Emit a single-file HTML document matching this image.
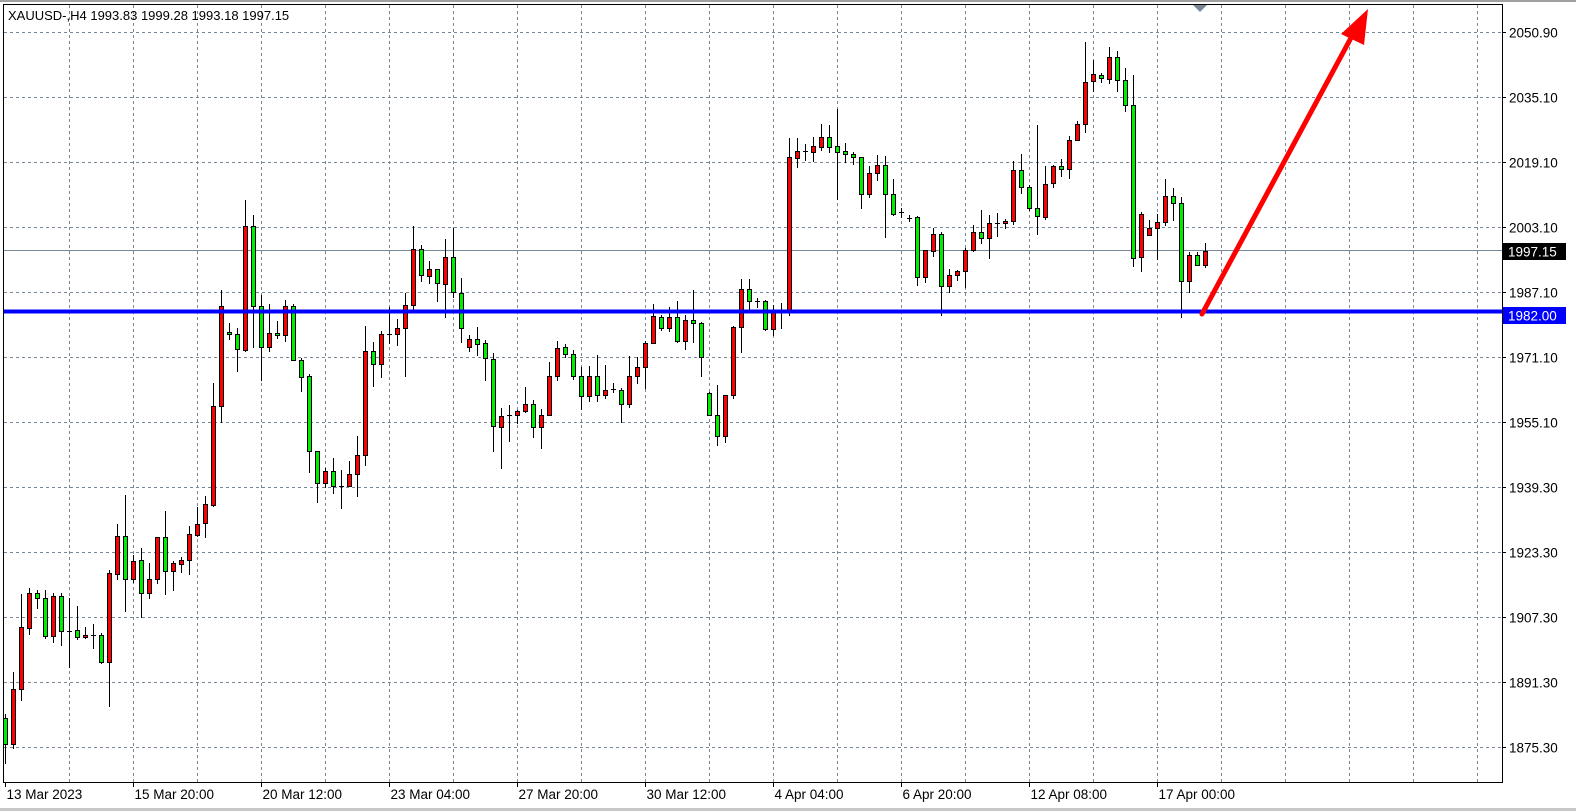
<!DOCTYPE html>
<html><head><meta charset="utf-8">
<style>
html,body{margin:0;padding:0;background:#fff;}
body{width:1576px;height:811px;overflow:hidden;position:relative;font-family:"Liberation Sans",sans-serif;}
svg{position:absolute;left:0;top:0;}
text{font-family:"Liberation Sans",sans-serif;font-size:13.5px;fill:#000;}
</style></head>
<body>
<svg id="s" width="1576" height="811" viewBox="0 0 1576 811" xmlns="http://www.w3.org/2000/svg">
<rect x="0" y="0" width="1576" height="811" fill="#fff"/>
<line x1="0" y1="1" x2="1576" y2="1" stroke="#a0a0a0" stroke-width="2"/>
<line x1="0" y1="809.5" x2="1576" y2="809.5" stroke="#c8c8c8" stroke-width="3"/>
<g id="grid" stroke="#778899" stroke-width="1" stroke-dasharray="3,3"></g>
<line x1="4" y1="250.5" x2="1502" y2="250.5" stroke="#778899" stroke-width="1"/>
<g id="candles"></g>
<line x1="4" y1="311.5" x2="1502" y2="311.5" stroke="#0000ff" stroke-width="4"/>
<line x1="1202" y1="314" x2="1352" y2="36" stroke="#ff0000" stroke-width="5" stroke-linecap="round"/>
<polygon points="1368,9 1341,34 1364,45" fill="#ff0000"/>
<polygon points="1192,4 1208,4 1200,12" fill="#778899"/>
<rect x="3.5" y="4.5" width="1499" height="778" fill="none" stroke="#000" stroke-width="1"/>
<g id="axis"></g>
<rect x="1503" y="243" width="63" height="17" fill="#000"/>
<text x="1508" y="256.5" style="fill:#fff">1997.15</text>
<rect x="1503" y="307" width="63" height="17" fill="#0000ff"/>
<text x="1508" y="320.5" style="fill:#fff">1982.00</text>
<text x="8" y="20" style="font-size:13px">XAUUSD-,H4  1993.83 1999.28 1993.18 1997.15</text>
</svg>
<script>
var NS="http://www.w3.org/2000/svg";
function el(p,t,a,txt){var e=document.createElementNS(NS,t);for(var k in a)e.setAttribute(k,a[k]);if(txt)e.textContent=txt;p.appendChild(e);return e;}
var grid=document.getElementById('grid'),ax=document.getElementById('axis'),cg=document.getElementById('candles');
var labs=["2050.90","2035.10","2019.10","2003.10","1987.10","1971.10","1955.10","1939.30","1923.30","1907.30","1891.30","1875.30"];
for(var k=0;k<12;k++){var y=Math.round(32+65*k)+0.5;
 el(grid,'line',{x1:4,y1:y,x2:1502,y2:y});
 el(ax,'line',{x1:1502,y1:y,x2:1506,y2:y,stroke:'#000'});
 el(ax,'text',{x:1509,y:y+5},labs[k]);}
for(var k=1;k<=23;k++){var x=5+64*k+0.5;el(grid,'line',{x1:x,y1:5,x2:x,y2:782});}
var tl=["13 Mar 2023","15 Mar 20:00","20 Mar 12:00","23 Mar 04:00","27 Mar 20:00","30 Mar 12:00","4 Apr 04:00","6 Apr 20:00","12 Apr 08:00","17 Apr 00:00"];
for(var k=0;k<tl.length;k++){var x=5+128*k+0.5;
 el(ax,'line',{x1:x,y1:782,x2:x,y2:787,stroke:'#000'});
 el(ax,'text',{x:x+1,y:799},tl[k]);}
var D="g,714,763,718,744|r,672,748,689,744|r,594,700,627,689|r,588,634,593,628|g,590,608,593,598|g,590,638,598,636|r,593,642,596,636|g,593,645,596,631|d,598,667,631,631|g,606,639,630,637|r,627,638,635,637|d,624,648,635,635|g,633,663,635,662|r,570,706,573,662|r,524,579,536,574|g,495,611,536,579|r,555,582,561,579|g,548,617,560,593|r,563,598,579,593|r,537,583,537,579|g,511,594,537,571|r,561,590,563,571|r,557,572,560,564|r,526,574,534,560|r,507,536,524,535|r,496,537,504,523|r,383,506,406,505|r,290,422,306,406|g,323,339,332,334|g,328,371,334,349|r,200,351,226,350|g,215,347,226,306|g,295,380,306,347|r,304,351,333,347|g,321,338,333,335|r,300,341,306,335|g,304,360,306,360|g,358,391,360,377|g,374,472,376,451|g,451,502,451,483|r,468,487,471,483|g,458,493,471,486|d,470,508,486,486|r,461,486,474,486|r,436,496,455,474|r,326,465,351,455|g,342,386,351,364|r,331,377,334,364|d,307,343,334,334|r,319,345,328,334|r,293,376,305,328|r,226,310,249,305|g,245,281,249,275|r,261,283,269,276|g,269,301,269,283|r,239,317,257,284|g,228,297,257,292|g,278,342,293,328|r,335,351,339,347|g,327,355,339,344|g,340,380,343,358|g,353,451,359,426|r,408,468,416,427|d,405,441,415,415|r,410,423,411,415|r,387,412,404,411|g,400,437,404,427|r,409,448,415,427|r,362,415,376,415|r,341,380,348,376|g,344,357,347,354|g,350,379,354,376|g,367,409,376,396|r,366,401,376,396|g,355,401,376,395|r,365,398,390,395|d,383,392,389,389|g,388,422,390,404|r,356,407,376,404|r,357,383,367,376|r,341,388,343,367|r,304,343,316,343|g,315,330,317,328|r,307,331,317,328|g,301,342,317,341|r,315,349,320,341|g,290,342,320,323|g,322,376,323,357|g,392,415,393,415|g,385,445,415,436|r,395,442,395,436|r,326,398,327,395|r,279,352,289,327|g,279,311,289,301|d,298,307,301,301|g,300,330,301,329|r,305,335,312,329|d,303,328,312,312|r,138,315,157,312|r,138,167,151,158|d,144,160,151,151|r,137,161,146,152|r,124,150,137,147|g,125,152,137,147|g,109,199,146,152|g,143,162,151,154|g,152,164,154,157|g,157,208,157,194|r,166,197,173,194|r,155,180,165,173|g,156,237,165,194|g,179,215,194,214|d,208,217,212,212|d,215,221,218,218|g,216,285,217,277|r,250,282,250,277|r,228,256,234,251|g,232,315,234,286|r,269,292,275,286|r,270,280,271,275|r,248,287,250,271|r,225,251,232,250|g,210,243,232,238|r,215,258,223,238|d,213,236,223,223|r,219,228,221,223|r,161,224,170,221|g,154,193,170,187|g,185,210,187,208|g,125,234,208,216|r,166,219,184,217|r,165,187,166,183|g,159,176,166,169|r,136,178,140,169|r,121,140,124,140|r,42,132,82,124|r,60,91,74,81|g,73,82,75,78|r,47,83,57,79|g,51,91,57,80|g,68,111,80,105|g,75,266,105,258|r,212,271,214,257|r,220,235,228,235|r,214,259,222,228|r,179,225,196,222|g,188,220,196,203|g,197,317,203,281|r,252,292,255,281|g,252,265,255,265|r,243,267,251,265";
D.split('|').forEach(function(s,i){var a=s.split(','),c=a[0],wt=+a[1],wb=+a[2],bt=+a[3],bb=+a[4];var x=5+8*i;
 el(cg,'line',{x1:x+0.5,y1:wt,x2:x+0.5,y2:wb+1,stroke:'#000','stroke-width':1});
 if(c==='d'){el(cg,'line',{x1:x-2,y1:bt+0.5,x2:x+3,y2:bt+0.5,stroke:'#000','stroke-width':1});}
 else{var h=Math.max(bb-bt,2);el(cg,'rect',{x:x-1.5,y:bt+0.5,width:4,height:h,fill:c==='r'?'#ff0000':'#00ee00',stroke:'#000','stroke-width':1});}
});
</script>
</body></html>
